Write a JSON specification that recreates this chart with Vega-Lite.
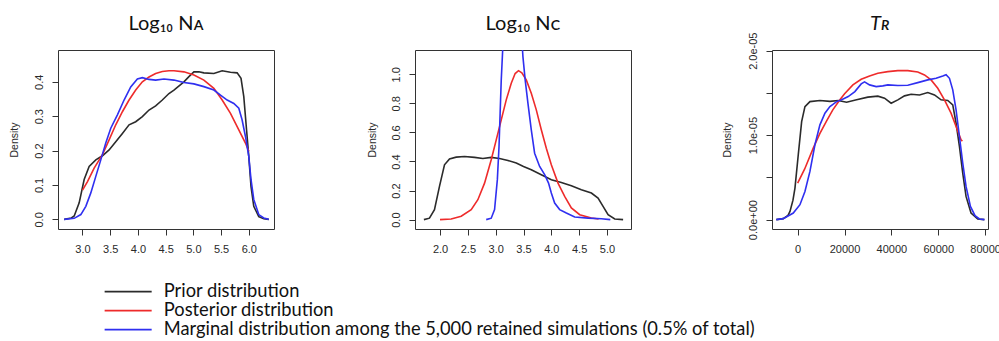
{
  "$schema": "https://vega.github.io/schema/vega-lite/v6.json",
  "background": "white",
  "padding": {"left": 8, "top": 13, "right": 0, "bottom": 0},
  "datasets": {
    "na": [
      {"s":"prior","x":2.67,"d":0},{"s":"prior","x":2.8,"d":0.004},{"s":"prior","x":2.85,"d":0.01},{"s":"prior","x":2.94,"d":0.048},{"s":"prior","x":3.03,"d":0.116},{"s":"prior","x":3.12,"d":0.154},{"s":"prior","x":3.24,"d":0.173},{"s":"prior","x":3.36,"d":0.185},{"s":"prior","x":3.48,"d":0.202},{"s":"prior","x":3.6,"d":0.226},{"s":"prior","x":3.72,"d":0.25},{"s":"prior","x":3.84,"d":0.275},{"s":"prior","x":3.96,"d":0.284},{"s":"prior","x":4.08,"d":0.299},{"s":"prior","x":4.2,"d":0.318},{"s":"prior","x":4.32,"d":0.33},{"s":"prior","x":4.44,"d":0.347},{"s":"prior","x":4.56,"d":0.366},{"s":"prior","x":4.65,"d":0.376},{"s":"prior","x":4.83,"d":0.4},{"s":"prior","x":4.92,"d":0.415},{"s":"prior","x":5.01,"d":0.429},{"s":"prior","x":5.1,"d":0.429},{"s":"prior","x":5.19,"d":0.426},{"s":"prior","x":5.37,"d":0.424},{"s":"prior","x":5.52,"d":0.432},{"s":"prior","x":5.67,"d":0.428},{"s":"prior","x":5.79,"d":0.426},{"s":"prior","x":5.86,"d":0.41},{"s":"prior","x":5.91,"d":0.357},{"s":"prior","x":5.96,"d":0.26},{"s":"prior","x":6.0,"d":0.183},{"s":"prior","x":6.04,"d":0.096},{"s":"prior","x":6.09,"d":0.038},{"s":"prior","x":6.18,"d":0.008},{"s":"prior","x":6.27,"d":0.002},{"s":"prior","x":6.36,"d":0},
      {"s":"posterior","x":3.0,"d":0.085},{"s":"posterior","x":3.09,"d":0.11},{"s":"posterior","x":3.21,"d":0.149},{"s":"posterior","x":3.36,"d":0.188},{"s":"posterior","x":3.48,"d":0.231},{"s":"posterior","x":3.6,"d":0.275},{"s":"posterior","x":3.72,"d":0.313},{"s":"posterior","x":3.84,"d":0.347},{"s":"posterior","x":3.96,"d":0.376},{"s":"posterior","x":4.08,"d":0.4},{"s":"posterior","x":4.2,"d":0.414},{"s":"posterior","x":4.32,"d":0.424},{"s":"posterior","x":4.44,"d":0.43},{"s":"posterior","x":4.56,"d":0.432},{"s":"posterior","x":4.65,"d":0.432},{"s":"posterior","x":4.83,"d":0.429},{"s":"posterior","x":5.01,"d":0.42},{"s":"posterior","x":5.19,"d":0.405},{"s":"posterior","x":5.37,"d":0.381},{"s":"posterior","x":5.52,"d":0.347},{"s":"posterior","x":5.67,"d":0.308},{"s":"posterior","x":5.82,"d":0.26},{"s":"posterior","x":5.94,"d":0.222},{"s":"posterior","x":6.0,"d":0.198},
      {"s":"marginal","x":2.67,"d":0},{"s":"marginal","x":2.85,"d":0.003},{"s":"marginal","x":2.97,"d":0.014},{"s":"marginal","x":3.06,"d":0.038},{"s":"marginal","x":3.15,"d":0.077},{"s":"marginal","x":3.24,"d":0.125},{"s":"marginal","x":3.33,"d":0.173},{"s":"marginal","x":3.42,"d":0.222},{"s":"marginal","x":3.51,"d":0.265},{"s":"marginal","x":3.63,"d":0.304},{"s":"marginal","x":3.75,"d":0.347},{"s":"marginal","x":3.87,"d":0.385},{"s":"marginal","x":3.99,"d":0.408},{"s":"marginal","x":4.08,"d":0.412},{"s":"marginal","x":4.2,"d":0.407},{"s":"marginal","x":4.32,"d":0.405},{"s":"marginal","x":4.47,"d":0.408},{"s":"marginal","x":4.65,"d":0.405},{"s":"marginal","x":4.83,"d":0.398},{"s":"marginal","x":5.01,"d":0.394},{"s":"marginal","x":5.19,"d":0.386},{"s":"marginal","x":5.37,"d":0.376},{"s":"marginal","x":5.49,"d":0.361},{"s":"marginal","x":5.61,"d":0.347},{"s":"marginal","x":5.73,"d":0.337},{"s":"marginal","x":5.82,"d":0.323},{"s":"marginal","x":5.88,"d":0.289},{"s":"marginal","x":5.94,"d":0.241},{"s":"marginal","x":6.0,"d":0.183},{"s":"marginal","x":6.04,"d":0.116},{"s":"marginal","x":6.09,"d":0.058},{"s":"marginal","x":6.18,"d":0.014},{"s":"marginal","x":6.27,"d":0.004},{"s":"marginal","x":6.36,"d":0}
    ],
    "nc": [
      {"s":"prior","x":1.71,"d":0},{"s":"prior","x":1.81,"d":0.01},{"s":"prior","x":1.9,"d":0.069},{"s":"prior","x":1.99,"d":0.229},{"s":"prior","x":2.08,"d":0.377},{"s":"prior","x":2.17,"d":0.418},{"s":"prior","x":2.29,"d":0.43},{"s":"prior","x":2.44,"d":0.434},{"s":"prior","x":2.62,"d":0.428},{"s":"prior","x":2.77,"d":0.421},{"s":"prior","x":2.92,"d":0.428},{"s":"prior","x":3.07,"d":0.421},{"s":"prior","x":3.22,"d":0.407},{"s":"prior","x":3.37,"d":0.389},{"s":"prior","x":3.5,"d":0.365},{"s":"prior","x":3.64,"d":0.343},{"s":"prior","x":3.82,"d":0.309},{"s":"prior","x":4.0,"d":0.275},{"s":"prior","x":4.18,"d":0.256},{"s":"prior","x":4.36,"d":0.233},{"s":"prior","x":4.54,"d":0.206},{"s":"prior","x":4.72,"d":0.183},{"s":"prior","x":4.84,"d":0.148},{"s":"prior","x":4.93,"d":0.091},{"s":"prior","x":5.02,"d":0.034},{"s":"prior","x":5.14,"d":0.004},{"s":"prior","x":5.29,"d":0},
      {"s":"posterior","x":2.0,"d":0},{"s":"posterior","x":2.2,"d":0.004},{"s":"posterior","x":2.38,"d":0.023},{"s":"posterior","x":2.56,"d":0.069},{"s":"posterior","x":2.68,"d":0.137},{"s":"posterior","x":2.8,"d":0.251},{"s":"posterior","x":2.92,"d":0.412},{"s":"posterior","x":3.01,"d":0.549},{"s":"posterior","x":3.1,"d":0.686},{"s":"posterior","x":3.19,"d":0.824},{"s":"posterior","x":3.28,"d":0.938},{"s":"posterior","x":3.35,"d":1.005},{"s":"posterior","x":3.41,"d":1.025},{"s":"posterior","x":3.47,"d":1.01},{"s":"posterior","x":3.55,"d":0.961},{"s":"posterior","x":3.64,"d":0.869},{"s":"posterior","x":3.73,"d":0.755},{"s":"posterior","x":3.82,"d":0.618},{"s":"posterior","x":3.91,"d":0.491},{"s":"posterior","x":4.0,"d":0.377},{"s":"posterior","x":4.12,"d":0.251},{"s":"posterior","x":4.24,"d":0.16},{"s":"posterior","x":4.36,"d":0.08},{"s":"posterior","x":4.51,"d":0.034},{"s":"posterior","x":4.72,"d":0.011},{"s":"posterior","x":4.85,"d":0.004},
      {"s":"marginal","x":2.83,"d":0},{"s":"marginal","x":2.92,"d":0.01},{"s":"marginal","x":2.98,"d":0.069},{"s":"marginal","x":3.03,"d":0.275},{"s":"marginal","x":3.06,"d":0.503},{"s":"marginal","x":3.08,"d":0.732},{"s":"marginal","x":3.1,"d":0.961},{"s":"marginal","x":3.13,"d":1.2},{"s":"marginal","x":3.18,"d":1.6},{"s":"marginal","x":3.25,"d":1.9},{"s":"marginal","x":3.32,"d":2.0},{"s":"marginal","x":3.4,"d":1.7},{"s":"marginal","x":3.46,"d":1.3},{"s":"marginal","x":3.49,"d":1.12},{"s":"marginal","x":3.53,"d":0.961},{"s":"marginal","x":3.58,"d":0.8},{"s":"marginal","x":3.64,"d":0.618},{"s":"marginal","x":3.7,"d":0.457},{"s":"marginal","x":3.79,"d":0.366},{"s":"marginal","x":3.88,"d":0.309},{"s":"marginal","x":3.95,"d":0.251},{"s":"marginal","x":4.0,"d":0.183},{"s":"marginal","x":4.06,"d":0.114},{"s":"marginal","x":4.15,"d":0.069},{"s":"marginal","x":4.27,"d":0.045},{"s":"marginal","x":4.42,"d":0.018},{"s":"marginal","x":4.66,"d":0.01},{"s":"marginal","x":4.9,"d":0.006},{"s":"marginal","x":5.06,"d":0}
    ],
    "tr": [
      {"s":"prior","x":-9120,"d":0},{"s":"prior","x":-6140,"d":1.2e-7},{"s":"prior","x":-4130,"d":5.0e-7},{"s":"prior","x":-3280,"d":9.8e-7},{"s":"prior","x":-2000,"d":2.3e-6},{"s":"prior","x":-1150,"d":3.73e-6},{"s":"prior","x":260,"d":7.68e-6},{"s":"prior","x":1700,"d":1.161e-5},{"s":"prior","x":3110,"d":1.338e-5},{"s":"prior","x":5240,"d":1.397e-5},{"s":"prior","x":9500,"d":1.41e-5},{"s":"prior","x":13770,"d":1.4e-5},{"s":"prior","x":17300,"d":1.41e-5},{"s":"prior","x":20880,"d":1.39e-5},{"s":"prior","x":25140,"d":1.418e-5},{"s":"prior","x":29960,"d":1.45e-5},{"s":"prior","x":34220,"d":1.462e-5},{"s":"prior","x":37080,"d":1.437e-5},{"s":"prior","x":39890,"d":1.378e-5},{"s":"prior","x":42750,"d":1.418e-5},{"s":"prior","x":45600,"d":1.465e-5},{"s":"prior","x":48420,"d":1.484e-5},{"s":"prior","x":52000,"d":1.476e-5},{"s":"prior","x":55530,"d":1.504e-5},{"s":"prior","x":58390,"d":1.476e-5},{"s":"prior","x":61200,"d":1.418e-5},{"s":"prior","x":64060,"d":1.41e-5},{"s":"prior","x":66190,"d":1.358e-5},{"s":"prior","x":67600,"d":1.141e-5},{"s":"prior","x":69040,"d":8.66e-6},{"s":"prior","x":70450,"d":5.5e-6},{"s":"prior","x":71860,"d":2.75e-6},{"s":"prior","x":73990,"d":7.8e-7},{"s":"prior","x":76840,"d":8e-8},{"s":"prior","x":79700,"d":0},
      {"s":"posterior","x":0,"d":4.32e-6},{"s":"posterior","x":3000,"d":6.0e-6},{"s":"posterior","x":6650,"d":8.46e-6},{"s":"posterior","x":9500,"d":1.02e-5},{"s":"posterior","x":12360,"d":1.17e-5},{"s":"posterior","x":15000,"d":1.3e-5},{"s":"posterior","x":18030,"d":1.418e-5},{"s":"posterior","x":20030,"d":1.49e-5},{"s":"posterior","x":23570,"d":1.595e-5},{"s":"posterior","x":27110,"d":1.661e-5},{"s":"posterior","x":30690,"d":1.701e-5},{"s":"posterior","x":34220,"d":1.732e-5},{"s":"posterior","x":38490,"d":1.752e-5},{"s":"posterior","x":42750,"d":1.764e-5},{"s":"posterior","x":47010,"d":1.764e-5},{"s":"posterior","x":51270,"d":1.748e-5},{"s":"posterior","x":54130,"d":1.713e-5},{"s":"posterior","x":56940,"d":1.654e-5},{"s":"posterior","x":59800,"d":1.555e-5},{"s":"posterior","x":62650,"d":1.418e-5},{"s":"posterior","x":65460,"d":1.26e-5},{"s":"posterior","x":67600,"d":1.102e-5},{"s":"posterior","x":69730,"d":9.45e-6},{"s":"posterior","x":70300,"d":9.3e-6},
      {"s":"marginal","x":-9120,"d":0},{"s":"marginal","x":-6140,"d":1.2e-7},{"s":"marginal","x":-1870,"d":7.8e-7},{"s":"marginal","x":980,"d":1.77e-6},{"s":"marginal","x":3110,"d":3.34e-6},{"s":"marginal","x":5240,"d":5.71e-6},{"s":"marginal","x":7370,"d":8.86e-6},{"s":"marginal","x":9500,"d":1.122e-5},{"s":"marginal","x":11640,"d":1.26e-5},{"s":"marginal","x":13770,"d":1.338e-5},{"s":"marginal","x":16620,"d":1.397e-5},{"s":"marginal","x":18750,"d":1.42e-5},{"s":"marginal","x":21570,"d":1.457e-5},{"s":"marginal","x":24420,"d":1.516e-5},{"s":"marginal","x":27110,"d":1.607e-5},{"s":"marginal","x":28550,"d":1.63e-5},{"s":"marginal","x":30690,"d":1.595e-5},{"s":"marginal","x":33500,"d":1.575e-5},{"s":"marginal","x":36350,"d":1.583e-5},{"s":"marginal","x":38490,"d":1.595e-5},{"s":"marginal","x":42750,"d":1.587e-5},{"s":"marginal","x":47010,"d":1.591e-5},{"s":"marginal","x":51270,"d":1.622e-5},{"s":"marginal","x":55530,"d":1.654e-5},{"s":"marginal","x":59080,"d":1.673e-5},{"s":"marginal","x":61930,"d":1.701e-5},{"s":"marginal","x":63340,"d":1.716e-5},{"s":"marginal","x":64780,"d":1.673e-5},{"s":"marginal","x":66190,"d":1.536e-5},{"s":"marginal","x":67600,"d":1.3e-5},{"s":"marginal","x":69040,"d":9.84e-6},{"s":"marginal","x":70450,"d":6.69e-6},{"s":"marginal","x":71860,"d":3.93e-6},{"s":"marginal","x":73730,"d":1.57e-6},{"s":"marginal","x":75690,"d":4.7e-7},{"s":"marginal","x":77570,"d":8e-8},{"s":"marginal","x":79700,"d":0}
    ]
  },
  "config": {
    "view": {"stroke": "#333333", "strokeWidth": 1},
    "axis": {
      "domain": false, "grid": false, "tickColor": "#333333", "tickSize": 6, "tickWidth": 1,
      "labelFont": "Liberation Sans", "labelFontSize": 11, "labelColor": "#2a2a2a",
      "titleFont": "Liberation Sans", "titleFontSize": 10.5, "titleFontWeight": "normal", "titleColor": "#2a2a2a",
      "labelFlush": false, "labelOverlap": false
    },
    "axisX": {"labelPadding": 8},
    "axisY": {"labelAngle": 270, "labelAlign": "center", "labelBaseline": "bottom", "labelPadding": 8, "titlePadding": 14},
    "title": {"font": "Lato", "fontSize": 20, "fontWeight": "normal", "color": "#111111", "anchor": "middle", "frame": "group", "baseline": "alphabetic", "offset": 16},
    "legend": {
      "orient": "none", "legendX": 61, "legendY": 232.5, "title": null,
      "labelFont": "Lato", "labelFontSize": 18.3, "labelColor": "#111111", "labelLimit": 0,
      "symbolType": "M-2.94,0H2.94", "symbolSize": 256, "symbolStrokeWidth": 1.6,
      "labelOffset": 26.5, "rowPadding": 0
    }
  },
  "spacing": 92,
  "resolve": {"scale": {"x": "independent", "y": "independent"}},
  "hconcat": [
    {
      "width": 216, "height": 179,
      "title": {"text": "Log₁₀ Nᴀ"},
      "data": {"name": "na"},
      "mark": {"type": "line", "clip": true, "strokeWidth": 1.6},
      "encoding": {
        "x": {"field": "x", "type": "quantitative", "title": null, "scale": {"domain": [2.558, 6.455], "nice": false, "zero": false}, "axis": {"values": [3.0, 3.5, 4.0, 4.5, 5.0, 5.5, 6.0], "format": ".1f"}},
        "y": {"field": "d", "type": "quantitative", "title": "Density", "scale": {"domain": [-0.028, 0.4925], "nice": false, "zero": false}, "axis": {"values": [0, 0.1, 0.2, 0.3, 0.4], "format": ".1f"}},
        "color": {"field": "s", "type": "nominal", "scale": {"domain": ["prior", "posterior", "marginal"], "range": ["#2b2b2b", "#ee2b2b", "#2f2ff0"]},
          "legend": {"labelExpr": "datum.value == 'prior' ? 'Prior distribution' : datum.value == 'posterior' ? 'Posterior distribution' : 'Marginal distribution among the 5,000 retained simulations (0.5% of total)'"}}
      }
    },
    {
      "spacing": 89,
      "resolve": {"scale": {"x": "independent", "y": "independent"}},
      "hconcat": [
        {
          "width": 216, "height": 179,
          "title": {"text": "Log₁₀ Nᴄ"},
          "data": {"name": "nc"},
          "mark": {"type": "line", "clip": true, "strokeWidth": 1.6},
          "encoding": {
            "x": {"field": "x", "type": "quantitative", "title": null, "scale": {"domain": [1.55, 5.432], "nice": false, "zero": false}, "axis": {"values": [2.0, 2.5, 3.0, 3.5, 4.0, 4.5, 5.0], "format": ".1f"}},
            "y": {"field": "d", "type": "quantitative", "title": "Density", "scale": {"domain": [-0.0645, 1.167], "nice": false, "zero": false}, "axis": {"values": [0, 0.2, 0.4, 0.6, 0.8, 1.0], "format": ".1f", "titlePadding": 12.3}},
            "color": {"field": "s", "type": "nominal", "scale": {"domain": ["prior", "posterior", "marginal"], "range": ["#2b2b2b", "#ee2b2b", "#2f2ff0"]}}
          }
        },
        {
          "width": 216, "height": 179,
          "title": {"text": "Tʀ", "fontStyle": "italic", "dy": 18},
          "data": {"name": "tr"},
          "mark": {"type": "line", "clip": true, "strokeWidth": 1.6},
          "encoding": {
            "x": {"field": "x", "type": "quantitative", "title": null, "scale": {"domain": [-10950, 81230], "nice": false, "zero": false}, "axis": {"values": [0, 20000, 40000, 60000, 80000], "format": "d"}},
            "y": {"field": "d", "type": "quantitative", "title": "Density", "scale": {"domain": [-1.11e-6, 2.008e-5], "nice": false, "zero": false},
              "axis": {"values": [0, 5e-6, 1e-5, 1.5e-5, 2e-5], "titlePadding": 14.6, "labelExpr": "abs(datum.value) < 1e-9 ? '0.0e+00' : abs(datum.value - 1e-5) < 1e-9 ? '1.0e-05' : abs(datum.value - 2e-5) < 1e-9 ? '2.0e-05' : ''"}},
            "color": {"field": "s", "type": "nominal", "scale": {"domain": ["prior", "posterior", "marginal"], "range": ["#2b2b2b", "#ee2b2b", "#2f2ff0"]}}
          }
        }
      ]
    }
  ]
}
